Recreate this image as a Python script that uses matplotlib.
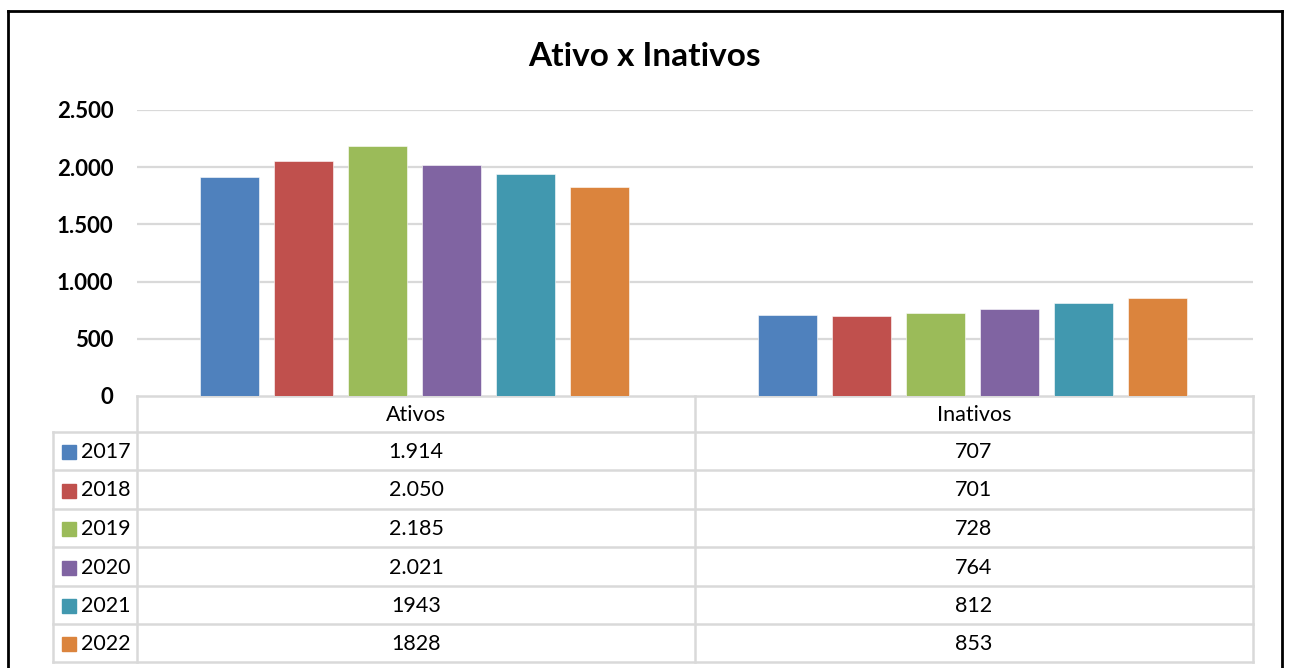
import matplotlib
matplotlib.use("Agg")
import matplotlib.pyplot as plt
from matplotlib.lines import Line2D
from matplotlib.patches import Rectangle
from matplotlib.ticker import FuncFormatter

plt.rcParams['font.family'] = ['Lato', 'DejaVu Sans']

title = "Ativo x Inativos"
categories = ["Ativos", "Inativos"]
years = ["2017", "2018", "2019", "2020", "2021", "2022"]
ativos = [1914, 2050, 2185, 2021, 1943, 1828]
inativos = [707, 701, 728, 764, 812, 853]
ativos_labels = ["1.914", "2.050", "2.185", "2.021", "1943", "1828"]
inativos_labels = ["707", "701", "728", "764", "812", "853"]
colors = ["#4F81BD", "#C0504D", "#9BBB59", "#8064A2", "#4198AF", "#DB843D"]
yticks = [0, 500, 1000, 1500, 2000, 2500]

W, H = 1290, 668
fig = plt.figure(figsize=(W / 100, H / 100), dpi=100)

# overlay for pixel-based layout (table, border)
ov = fig.add_axes([0, 0, 1, 1], zorder=0)
ov.set_xlim(0, W)
ov.set_ylim(H, 0)
ov.axis('off')

# plot area
px0, px1, py_top, py_bot = 137, 1253, 110, 396
ax = fig.add_axes([px0 / W, (H - py_bot) / H, (px1 - px0) / W, (py_bot - py_top) / H], zorder=2)
ax.patch.set_alpha(0)
ax.set_xlim(-0.5, 1.5)
ax.set_ylim(0, 2500)

bw = 0.1057
step = 0.1326
series = list(zip(ativos, inativos))
for i, (yr, vals) in enumerate(zip(years, series)):
    xs = [c + (i - 2.5) * step - 0.002 for c in range(len(categories))]
    ax.bar(xs, vals, width=bw, color=colors[i], edgecolor='white', linewidth=0.4, zorder=3)

ax.set_yticks(yticks)
ax.yaxis.set_major_formatter(FuncFormatter(lambda v, p: f"{int(v):,}".replace(",", ".")))
for lbl in ax.get_yticklabels():
    lbl.set_fontweight('bold')
    lbl.set_fontsize(16)
ax.tick_params(axis='y', length=0, pad=17)
ax.tick_params(axis='x', length=0, labelbottom=False)
for v in yticks[1:]:
    ax.axhline(v, color='#D9D9D9', linewidth=1.6, zorder=1)
for s in ax.spines.values():
    s.set_visible(False)

# title
fig.text(645 / W, 1 - 56 / H, title, ha='center', va='center', fontsize=24, fontweight='bold')

# table
gc = '#D9D9D9'
glw = 1.8
rows_y = [396, 432, 470, 509, 547, 586, 624, 662]
xl, xc0, xmid, xr = 53, 137, 695, 1253
ov.add_line(Line2D([xc0, xr], [rows_y[0], rows_y[0]], color=gc, lw=glw))
for y in rows_y[1:]:
    ov.add_line(Line2D([xl, xr], [y, y], color=gc, lw=glw))
ov.add_line(Line2D([xl, xl], [rows_y[1], rows_y[-1]], color=gc, lw=glw))
for x in (xc0, xmid, xr):
    ov.add_line(Line2D([x, x], [rows_y[0], rows_y[-1]], color=gc, lw=glw))

tfs = 15.5
col_centers = [(xc0 + xmid) / 2, (xmid + xr) / 2]
hy = (rows_y[0] + rows_y[1]) / 2 + 1
for cx, name in zip(col_centers, categories):
    ov.text(cx, hy, name, ha='center', va='center', fontsize=tfs)
for i in range(len(years)):
    cy = (rows_y[i + 1] + rows_y[i + 2]) / 2 + 1
    ov.text(col_centers[0], cy, ativos_labels[i], ha='center', va='center', fontsize=tfs)
    ov.text(col_centers[1], cy, inativos_labels[i], ha='center', va='center', fontsize=tfs)
    ov.add_patch(Rectangle((62, cy - 7), 14, 14, color=colors[i]))
    ov.text(81, cy, years[i], ha='left', va='center', fontsize=tfs)

# outer border
bk = 'black'
ov.add_line(Line2D([8, 8], [11, H], color=bk, lw=2))
ov.add_line(Line2D([8, 1282], [11, 11], color=bk, lw=2))
ov.add_line(Line2D([1282, 1282], [11, H], color=bk, lw=2))

fig.savefig("out.png", dpi=100)
